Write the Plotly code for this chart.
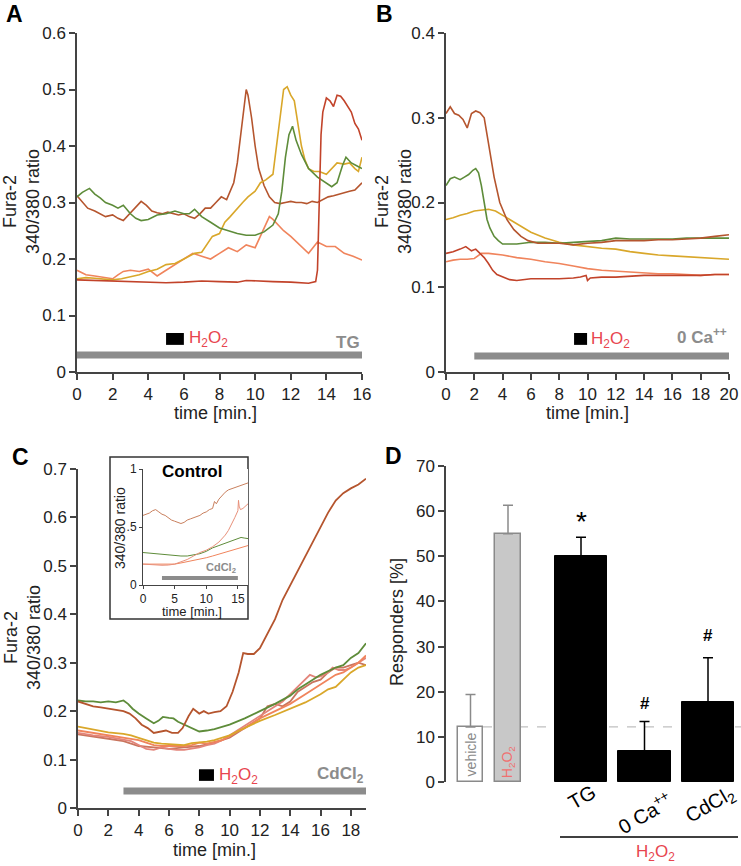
import plotly.graph_objects as go

W, H = 741, 866
def px(x): return x / W
def py(y): return 1 - y / H

BROWN = "#b5552e"; GOLD = "#d9a72a"; GREEN = "#5e8c3a"; SALMON = "#f0845c"; REDBR = "#c2432a"; PINK = "#e3847a"
RED_TXT = "#e8454f"; GRAY_TXT = "#8c8c8c"; AX = "#444444"
FONT = "Arial, Liberation Sans, sans-serif"

# ---------------- Panel A data ----------------
a_brown_x = [0,0.3,0.6,1,1.3,1.6,2,2.3,2.6,2.8,3.1,3.4,3.6,3.9,4.2,4.5,4.8,5.1,5.4,5.7,6,6.3,6.6,6.9,7.2,7.5,7.8,8.1,8.4,8.6,8.8,9,9.2,9.4,9.5,9.6,9.8,10,10.2,10.5,10.8,11.1,11.4,11.7,12,12.3,12.6,12.9,13.2,13.5,13.8,14.1,14.4,14.7,15,15.3,15.6,16]
a_brown_y = [.312,.30,.29,.285,.28,.275,.278,.272,.268,.275,.285,.295,.302,.295,.285,.282,.28,.283,.28,.278,.28,.275,.272,.28,.29,.29,.30,.31,.305,.32,.335,.37,.42,.47,.50,.49,.45,.40,.36,.33,.31,.30,.298,.30,.302,.30,.30,.298,.302,.30,.305,.31,.312,.315,.318,.32,.322,.335]
a_gold_x = [0,0.5,1,1.5,2,2.5,3,3.5,4,4.5,5,5.5,6,6.3,6.6,7,7.3,7.6,8,8.3,8.6,9,9.3,9.6,10,10.3,10.6,11,11.2,11.4,11.6,11.8,12,12.2,12.4,12.6,12.8,13,13.3,13.6,14,14.3,14.6,15,15.3,15.6,15.8,16]
a_gold_y = [.165,.167,.166,.165,.163,.165,.168,.172,.178,.182,.19,.192,.20,.205,.21,.212,.225,.24,.245,.265,.275,.29,.30,.31,.32,.335,.34,.35,.40,.46,.50,.505,.49,.48,.44,.40,.375,.36,.355,.355,.35,.36,.37,.368,.37,.36,.355,.38]
a_green_x = [0,0.3,0.7,1,1.3,1.6,2,2.3,2.6,3,3.3,3.6,4,4.5,5,5.5,6,6.3,6.6,7,7.5,8,8.5,9,9.5,10,10.5,11,11.3,11.5,11.7,11.9,12.1,12.3,12.6,13,13.5,14,14.3,14.6,14.9,15.1,15.4,15.7,16]
a_green_y = [.31,.318,.325,.315,.308,.30,.295,.29,.295,.28,.272,.268,.27,.278,.28,.285,.28,.28,.288,.275,.265,.255,.25,.245,.242,.242,.248,.26,.28,.32,.38,.42,.435,.41,.385,.36,.345,.335,.328,.335,.365,.38,.37,.365,.36]
a_salmon_x = [0,0.5,1,1.5,2,2.3,2.6,3,3.5,4,4.5,5,5.5,6,6.5,7,7.5,8,8.5,9,9.5,10,10.3,10.6,10.8,11,11.3,11.6,12,12.5,13,13.5,14,14.5,15,15.5,16]
a_salmon_y = [.18,.172,.17,.168,.165,.172,.178,.18,.178,.182,.17,.18,.19,.20,.21,.205,.20,.21,.22,.213,.225,.22,.24,.26,.275,.27,.26,.25,.24,.225,.21,.23,.222,.222,.21,.205,.198]
a_red_x = [0,1,2,3,4,5,6,7,8,9,9.5,10,11,12,13,13.4,13.5,13.6,13.7,13.8,14,14.2,14.4,14.6,14.8,15,15.2,15.4,15.6,15.8,16]
a_red_y = [.163,.162,.162,.16,.159,.158,.159,.161,.16,.159,.162,.161,.16,.159,.157,.16,.18,.30,.42,.46,.485,.48,.47,.49,.488,.48,.47,.46,.44,.43,.41]

# ---------------- Panel B data ----------------
b_brown_x = [0,0.3,0.6,0.9,1.2,1.5,1.8,2.1,2.4,2.7,3,3.4,3.8,4.3,4.8,5.3,5.8,6.5,7,8,9,10,11,12,13,14,15,16,17,18,19,20]
b_brown_y = [.305,.313,.305,.303,.298,.288,.305,.308,.306,.30,.27,.23,.20,.18,.168,.16,.155,.152,.152,.152,.15,.152,.153,.155,.155,.155,.156,.156,.157,.158,.16,.162]
b_green_x = [0,0.3,0.6,1,1.3,1.6,1.9,2.1,2.3,2.5,2.7,2.9,3.1,3.4,3.7,4,5,6,7,8,9,10,11,12,13,14,15,16,17,18,19,20]
b_green_y = [.22,.228,.23,.227,.23,.233,.238,.24,.235,.22,.20,.18,.17,.16,.155,.151,.151,.153,.153,.152,.153,.154,.155,.158,.157,.157,.157,.157,.158,.158,.158,.158]
b_gold_x = [0,0.5,1,1.5,2,2.5,3,3.5,4,4.5,5,5.5,6,7,8,9,10,11,12,13,14,15,16,17,18,19,20]
b_gold_y = [.18,.182,.185,.187,.19,.191,.192,.19,.185,.18,.175,.17,.165,.158,.153,.15,.148,.146,.145,.142,.14,.138,.137,.136,.135,.134,.133]
b_salmon_x = [0,0.5,1,1.5,2,2.5,3,4,5,6,7,8,9,10,11,12,13,14,15,16,17,18,19,20]
b_salmon_y = [.13,.132,.133,.133,.134,.14,.14,.138,.135,.133,.13,.128,.125,.122,.12,.119,.118,.117,.116,.116,.115,.114,.115,.115]
b_red_x = [0,0.5,1,1.4,1.8,2.1,2.4,2.7,3,3.3,3.6,4,4.5,5,6,7,8,9,9.5,9.9,10,10.2,11,12,13,14,15,16,17,18,19,20]
b_red_y = [.14,.142,.145,.148,.143,.145,.14,.135,.128,.12,.115,.112,.109,.108,.11,.11,.11,.111,.112,.114,.108,.111,.112,.112,.113,.114,.114,.114,.114,.114,.115,.115]

# ---------------- Panel C data ----------------
c_green_x = [0,0.5,1,1.5,2,2.5,3,3.3,3.6,4,4.5,5,5.3,5.6,6,6.3,6.6,7,7.5,8,8.5,9,10,11,12,13,14,14.5,15,16,17,17.5,18,18.5,19]
c_green_y = [.222,.22,.22,.218,.22,.218,.222,.215,.205,.195,.185,.175,.18,.188,.186,.185,.178,.172,.165,.158,.16,.163,.172,.185,.20,.215,.232,.245,.255,.275,.29,.295,.31,.32,.34]
c_brown_x = [0,0.5,1,1.5,2,2.5,3,3.4,3.8,4.2,4.6,5,5.4,5.8,6.2,6.6,6.9,7.3,7.6,8,8.3,8.6,9,9.4,9.8,10.2,10.6,10.9,11.2,11.6,12,12.5,13,13.5,14,14.5,15,15.5,16,16.5,17,17.5,18,18.5,19]
c_brown_y = [.22,.215,.21,.208,.205,.203,.2,.195,.185,.172,.165,.155,.158,.16,.155,.155,.165,.19,.205,.195,.2,.195,.198,.2,.21,.24,.28,.32,.318,.318,.33,.36,.39,.43,.46,.49,.52,.55,.58,.61,.635,.65,.66,.668,.68]
c_gold_x = [0,1,2,3,3.5,4,4.5,5,5.5,6,6.5,7,7.5,8,8.5,9,9.5,10,10.5,11,11.5,12,13,14,15,16,16.5,17,17.5,18,18.5,19]
c_gold_y = [.168,.162,.156,.153,.15,.145,.14,.135,.133,.132,.132,.13,.134,.135,.137,.14,.145,.15,.158,.165,.172,.18,.192,.205,.218,.235,.245,.25,.265,.28,.29,.295]
c_salmon_x = [0,1,2,3,3.5,4,4.5,5,5.5,6,6.5,7,7.5,8,8.5,9,9.5,10,10.5,11,11.5,12,13,14,15,16,16.5,17,17.5,18,18.5,19]
c_salmon_y = [.16,.155,.15,.145,.142,.14,.135,.13,.128,.128,.128,.128,.13,.135,.133,.137,.14,.148,.158,.165,.175,.185,.2,.215,.235,.255,.265,.275,.28,.29,.3,.315]
c_pink_x = [0,1,2,3,3.5,4,4.5,5,5.5,6,6.5,7,7.5,8,8.5,9,9.5,10,10.5,11,11.5,12,12.5,13,13.5,14,14.5,15,15.3,15.7,16,16.5,16.8,17.2,17.6,18,18.5,19]
c_pink_y = [.155,.15,.147,.14,.138,.13,.122,.12,.125,.122,.12,.12,.123,.125,.13,.133,.14,.15,.16,.17,.18,.19,.2,.21,.22,.235,.25,.265,.275,.27,.272,.28,.29,.285,.285,.29,.3,.31]
c_pinkred_x = [0,1,2,3,4,5,6,7,8,9,10,11,12,12.5,13,13.5,14,14.5,15,15.5,16,16.5,17,17.5,18,18.5,19]
c_pinkred_y = [.152,.148,.143,.138,.128,.125,.122,.125,.128,.135,.145,.165,.185,.21,.215,.21,.22,.24,.25,.26,.265,.28,.29,.29,.295,.3,.295]

# ---------------- Inset data ----------------
i_brown_x = [0,0.5,1,1.5,2,2.5,3,3.5,4,4.5,5,5.5,6,6.5,7,7.5,8,8.5,9,9.5,10,10.5,11,11.3,11.6,12,12.5,13,13.5,14,14.5,15,15.5,16,16.6]
i_brown_y = [.60,.61,.62,.64,.65,.63,.61,.60,.58,.56,.55,.54,.53,.54,.56,.57,.58,.59,.60,.62,.63,.65,.66,.72,.70,.74,.77,.80,.82,.83,.84,.85,.86,.87,.88]
i_pink_x = [0,1,2,3,4,5,6,7,8,9,10,11,12,12.5,13,13.5,14,14.5,15,15.1,15.2,15.4,15.8,16.2,16.6]
i_pink_y = [.18,.175,.17,.17,.172,.18,.2,.22,.25,.28,.3,.33,.37,.4,.43,.47,.52,.58,.64,.73,.68,.65,.66,.68,.70]
i_green_x = [0,1,2,3,4,5,6,7,8,9,10,11,12,13,14,15,15.5,16,16.6]
i_green_y = [.28,.275,.27,.26,.255,.25,.25,.25,.26,.27,.29,.32,.34,.36,.38,.405,.41,.405,.40]
i_salmon_x = [0,1,2,3,4,5,6,7,8,9,10,11,12,13,14,15,16,16.6]
i_salmon_y = [.18,.18,.18,.18,.18,.18,.19,.2,.21,.22,.235,.25,.265,.28,.295,.31,.33,.34]

# ---------------- Panel D data ----------------
d_labels = ["vehicle", "H2O2", "TG", "0 Ca++", "CdCl2"]
d_means = [12.2, 55.0, 50.0, 6.8, 17.8]
d_err = [7.2, 6.3, 4.2, 6.6, 9.7]

fig = go.Figure()

def add_lines(series, xa, ya, width=1.6):
    for xs, ys, col in series:
        fig.add_trace(go.Scatter(x=xs, y=ys, mode="lines", line=dict(color=col, width=width),
                                 xaxis=xa, yaxis=ya, showlegend=False, hoverinfo="skip"))

add_lines([(a_brown_x, a_brown_y, BROWN), (a_salmon_x, a_salmon_y, SALMON), (a_gold_x, a_gold_y, GOLD),
           (a_green_x, a_green_y, GREEN), (a_red_x, a_red_y, REDBR)], "x", "y")
add_lines([(b_gold_x, b_gold_y, GOLD), (b_salmon_x, b_salmon_y, SALMON), (b_green_x, b_green_y, GREEN),
           (b_brown_x, b_brown_y, BROWN), (b_red_x, b_red_y, REDBR)], "x2", "y2")
add_lines([(c_pinkred_x, c_pinkred_y, "#c9755e"), (c_pink_x, c_pink_y, PINK), (c_salmon_x, c_salmon_y, SALMON),
           (c_gold_x, c_gold_y, GOLD), (c_green_x, c_green_y, GREEN), (c_brown_x, c_brown_y, BROWN)], "x3", "y3", 1.8)
add_lines([(i_salmon_x, i_salmon_y, SALMON), (i_green_x, i_green_y, GREEN), (i_pink_x, i_pink_y, "#e8907a"),
           (i_brown_x, i_brown_y, "#c9805e")], "x4", "y4", 1.0)

# Panel D bars
bar_pos = [0.98, 2.48, 5.4, 7.94, 10.48]
bar_w = [1.0, 1.04, 2.08, 2.12, 2.08]
fig.add_trace(go.Bar(x=bar_pos[:2], y=d_means[:2], width=bar_w[:2],
                     marker=dict(color=["white", "#c8c8c8"], line=dict(color="#8a8a8a", width=1.5)),
                     error_y=dict(type="data", array=d_err[:2], arrayminus=[0, 0], symmetric=False,
                                  color="#8a8a8a", thickness=1.5, width=5),
                     xaxis="x5", yaxis="y5", showlegend=False, hoverinfo="skip"))
fig.add_trace(go.Bar(x=bar_pos[2:], y=d_means[2:], width=bar_w[2:],
                     marker=dict(color="black", line=dict(color="black", width=1)),
                     error_y=dict(type="data", array=d_err[2:], arrayminus=[0, 0, 0], symmetric=False,
                                  color="black", thickness=1.5, width=5),
                     xaxis="x5", yaxis="y5", showlegend=False, hoverinfo="skip"))

tickfont = dict(family=FONT, size=17, color="#222")
def xax(dom, rng, dtick, anchor, **kw):
    d = dict(domain=dom, range=rng, dtick=dtick, tick0=0, anchor=anchor, showline=True, linecolor=AX,
             linewidth=1.5, ticks="outside", ticklen=6, tickwidth=1.5, tickcolor=AX, showgrid=False,
             zeroline=False, tickfont=tickfont, fixedrange=True, automargin=False)
    d.update(kw); return d
yax = xax

small = dict(family=FONT, size=12, color="#222")
fig.update_layout(
    width=W, height=H, margin=dict(l=0, r=0, t=0, b=0, pad=0, autoexpand=False),
    plot_bgcolor="white", paper_bgcolor="white",
    showlegend=False, bargap=0,
    xaxis=xax([px(77), px(362)], [0, 16], 2, "y"),
    yaxis=yax([py(372), py(33)], [0, 0.6], 0.1, "x"),
    xaxis2=xax([px(446), px(729)], [0, 20], 2, "y2"),
    yaxis2=yax([py(372), py(33)], [0, 0.4], 0.1, "x2"),
    xaxis3=xax([px(78), px(366)], [0, 19], 2, "y3"),
    yaxis3=yax([py(808), py(469)], [0, 0.7], 0.1, "x3"),
    xaxis4=xax([px(143), px(248)], [0, 16.6], 5, "y4", tickfont=small, ticklen=3, linewidth=1, tickwidth=1),
    yaxis4=yax([py(585), py(469)], [0, 1], 0.5, "x4", tickfont=small, ticklen=3, linewidth=1, tickwidth=1,
               tickmode="array", tickvals=[0, 0.5, 1], ticktext=["0", ".5", "1"]),
    xaxis5=dict(domain=[px(446), 1], range=[0, 11.8], anchor="y5", showline=False, showticklabels=False,
                ticks="", showgrid=False, zeroline=False, fixedrange=True, automargin=False),
    yaxis5=yax([py(782), py(466)], [0, 70], 10, "x5"),
)

shapes = []
ann = []
def A(**kw):
    d = dict(showarrow=False, xanchor="center", yanchor="middle")
    d.update(kw); ann.append(d)

# Inset box
shapes.append(dict(type="rect", xref="paper", yref="paper", x0=px(110), x1=px(248), y0=py(619), y1=py(457),
                   line=dict(color="#333", width=1.5), fillcolor="rgba(0,0,0,0)", layer="below"))
# Panel A markers
shapes.append(dict(type="line", xref="x", yref="y", x0=0, x1=16, y0=0.03, y1=0.03, line=dict(color="#8c8c8c", width=7)))
shapes.append(dict(type="rect", xref="x", yref="y", x0=5.0, x1=6.0, y0=0.048, y1=0.069, fillcolor="black", line=dict(width=0)))
A(xref="x", yref="y", x=6.2, y=0.058, text="H<sub>2</sub>O<sub>2</sub>", xanchor="left",
  font=dict(family=FONT, size=17, color=RED_TXT))
A(xref="x", yref="y", x=16, y=0.053, text="<b>TG</b>", xanchor="right",
  font=dict(family=FONT, size=17, color=GRAY_TXT))
# Panel B markers
shapes.append(dict(type="line", xref="x2", yref="y2", x0=2, x1=20, y0=0.019, y1=0.019, line=dict(color="#8c8c8c", width=7)))
shapes.append(dict(type="rect", xref="x2", yref="y2", x0=9.05, x1=9.97, y0=0.032, y1=0.046, fillcolor="black", line=dict(width=0)))
A(xref="x2", yref="y2", x=10.1, y=0.038, text="H<sub>2</sub>O<sub>2</sub>", xanchor="left",
  font=dict(family=FONT, size=17, color=RED_TXT))
A(xref="x2", yref="y2", x=20, y=0.042, text="<b>0 Ca<sup>++</sup></b>", xanchor="right",
  font=dict(family=FONT, size=17, color=GRAY_TXT))
# Panel C markers
shapes.append(dict(type="line", xref="x3", yref="y3", x0=3, x1=19, y0=0.035, y1=0.035, line=dict(color="#8c8c8c", width=7)))
shapes.append(dict(type="rect", xref="x3", yref="y3", x0=7.98, x1=8.97, y0=0.056, y1=0.08, fillcolor="black", line=dict(width=0)))
A(xref="x3", yref="y3", x=9.2, y=0.067, text="H<sub>2</sub>O<sub>2</sub>", xanchor="left",
  font=dict(family=FONT, size=17, color=RED_TXT))
A(xref="x3", yref="y3", x=19, y=0.068, text="<b>CdCl<sub>2</sub></b>", xanchor="right",
  font=dict(family=FONT, size=17, color=GRAY_TXT))
# Inset markers
shapes.append(dict(type="line", xref="x4", yref="y4", x0=3, x1=15, y0=0.06, y1=0.06, line=dict(color="#8c8c8c", width=4)))
A(xref="x4", yref="y4", x=15, y=0.15, text="<b>CdCl<sub>2</sub></b>", xanchor="right",
  font=dict(family=FONT, size=11, color=GRAY_TXT))
A(xref="paper", yref="paper", x=px(192), y=py(471), text="<b>Control</b>",
  font=dict(family=FONT, size=17, color="black"))
A(xref="paper", yref="paper", x=px(120), y=py(528), text="340/380 ratio", textangle=-90,
  font=dict(family=FONT, size=14, color="#222"))
A(xref="paper", yref="paper", x=px(192), y=py(611), text="time [min.]",
  font=dict(family=FONT, size=13, color="#222"))

# Panel D extras
shapes.append(dict(type="line", xref="x5", yref="y5", x0=1.48, x1=11.8, y0=12.2, y1=12.2,
                   line=dict(color="#c0c0c0", width=1.2, dash="dash"), layer="below"))
A(xref="x5", yref="y5", x=bar_pos[0], y=6.0, text="vehicle", textangle=-90,
  font=dict(family=FONT, size=14, color="#8a8a8a"))
A(xref="x5", yref="y5", x=bar_pos[1], y=4.4, text="H<sub>2</sub>O<sub>2</sub>", textangle=-90,
  font=dict(family=FONT, size=14, color="#f07070"))
A(xref="x5", yref="y5", x=bar_pos[2], y=d_means[2] + d_err[2] + 3.5, text="*",
  font=dict(family=FONT, size=28, color="black"))
A(xref="x5", yref="y5", x=bar_pos[3], y=d_means[3] + d_err[3] + 4.0, text="<b>#</b>",
  font=dict(family=FONT, size=17, color="black"))
A(xref="x5", yref="y5", x=bar_pos[4], y=d_means[4] + d_err[4] + 5.0, text="<b>#</b>",
  font=dict(family=FONT, size=17, color="black"))
d_tick_txt = ["TG", "0 Ca<sup>++</sup>", "CdCl<sub>2</sub>"]
d_tick_px = [(582, 797), (644, 812), (710, 805)]
for t, (xx, yy) in zip(d_tick_txt, d_tick_px):
    A(xref="paper", yref="paper", x=px(xx), y=py(yy), text=t, textangle=-30,
      font=dict(family=FONT, size=20, color="black"))
shapes.append(dict(type="line", xref="paper", yref="paper", x0=px(560), x1=px(738), y0=py(837), y1=py(837),
                   line=dict(color="black", width=1.5)))
A(xref="paper", yref="paper", x=px(655), y=py(853), text="H<sub>2</sub>O<sub>2</sub>",
  font=dict(family=FONT, size=17, color=RED_TXT))

# Axis titles
yt = dict(family=FONT, size=18, color="#222")
A(xref="paper", yref="paper", x=px(22), y=py(202), text="Fura-2<br>340/380 ratio", textangle=-90, font=yt)
A(xref="paper", yref="paper", x=px(394), y=py(202), text="Fura-2<br>340/380 ratio", textangle=-90, font=yt)
A(xref="paper", yref="paper", x=px(22), y=py(638), text="Fura-2<br>340/380 ratio", textangle=-90, font=yt)
A(xref="paper", yref="paper", x=px(397), y=py(622), text="Responders [%]", textangle=-90, font=yt)
A(xref="paper", yref="paper", x=px(216), y=py(413), text="time [min.]", font=yt)
A(xref="paper", yref="paper", x=px(587), y=py(413), text="time [min.]", font=yt)
A(xref="paper", yref="paper", x=px(214), y=py(850), text="time [min.]", font=yt)

# Panel letters
for t, (xx, yy) in zip(["A", "B", "C", "D"], [(14, 14), (384, 14), (20, 457), (393, 456)]):
    A(xref="paper", yref="paper", x=px(xx), y=py(yy), text="<b>" + t + "</b>",
      font=dict(family=FONT, size=23, color="black"))

fig.update_layout(shapes=shapes, annotations=ann)
fig.write_html("out.html", config={"displayModeBar": False},
               post_script="document.body.style.margin='0';document.body.style.padding='0';"
                           "document.body.style.overflow='hidden';")
